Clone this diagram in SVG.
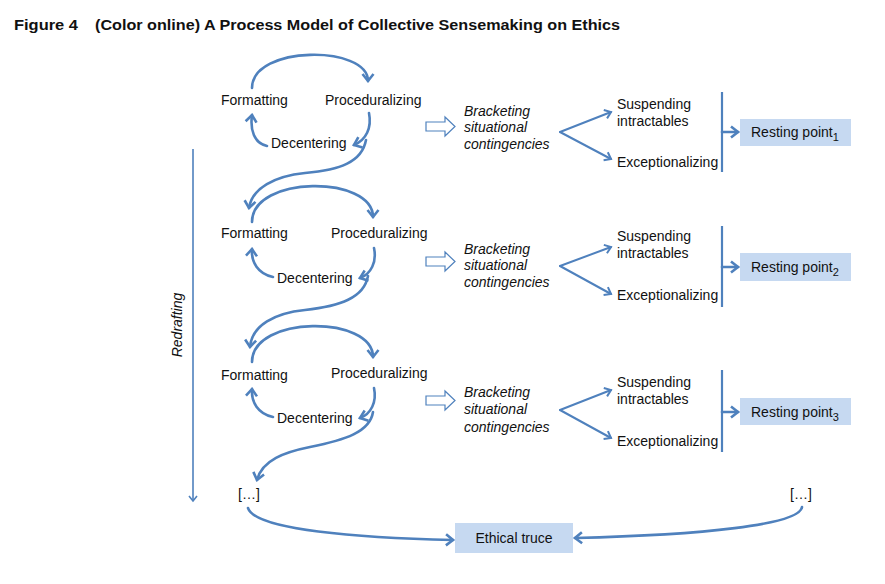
<svg xmlns="http://www.w3.org/2000/svg" width="885" height="584" viewBox="0 0 885 584">
<defs>
<style>
text{font-family:"Liberation Sans",Arial,sans-serif;font-size:14px;fill:#111}
.title{font-weight:bold;font-size:14px}
.it{font-style:italic}
.c{fill:none;stroke:#4f81bd;stroke-width:2.6;stroke-linecap:round}
.f{fill:none;stroke:#4f81bd;stroke-width:2;stroke-linecap:round}
.bar{stroke:#4f81bd;stroke-width:2.2}
.hollow{fill:#fff;stroke:#4f81bd;stroke-width:1.2}
.box{fill:#c6d9f1}
.sub{font-size:11px}
</style>
<marker id="ah" markerUnits="userSpaceOnUse" markerWidth="20" markerHeight="20" refX="0" refY="0" viewBox="-10 -10 20 20" orient="auto">
<path d="M-7,-5.5 L0,0 L-7,5.5" fill="none" stroke="#4f81bd" stroke-width="2.6" stroke-linejoin="miter"/>
</marker>
<marker id="ahs" markerUnits="userSpaceOnUse" markerWidth="20" markerHeight="20" refX="0" refY="0" viewBox="-10 -10 20 20" orient="auto">
<path d="M-6,-4.5 L0,0 L-6,4.5" fill="none" stroke="#4f81bd" stroke-width="2"/>
</marker>
<marker id="aht" markerUnits="userSpaceOnUse" markerWidth="20" markerHeight="20" refX="0" refY="0" viewBox="-10 -10 20 20" orient="auto">
<path d="M-5,-4 L0,0 L-5,4" fill="none" stroke="#4f81bd" stroke-width="1.6"/>
</marker>
</defs>
<rect width="885" height="584" fill="#fff"/>
<g id="title">
<text class="title" x="14" y="30" textLength="64" lengthAdjust="spacingAndGlyphs">Figure 4</text>
<text class="title" x="95" y="30" textLength="525" lengthAdjust="spacingAndGlyphs">(Color online) A Process Model of Collective Sensemaking on Ethics</text>
</g>

<g id="connectors">
<!-- row 1 cycle -->
<path class="c" d="M252,88 C252,45 368,45 368,81" marker-end="url(#ah)"/>
<path class="c" d="M267,146 C254,143 250,130 252,115" marker-end="url(#ah)"/>
<path class="c" d="M369,113 C372,128 366,140 354,145" marker-end="url(#ah)"/>
<path class="c" d="M366,140 C362,162 340,170 305,173 C275,176 252,188 249,208" marker-end="url(#ah)"/>
<!-- row 2 cycle -->
<path class="c" d="M252,222 C252,175 373,175 373,217" marker-end="url(#ah)"/>
<path class="c" d="M273,277 C258,274 251,262 252,249" marker-end="url(#ah)"/>
<path class="c" d="M374,248 C377,262 371,274 360,278" marker-end="url(#ah)"/>
<path class="c" d="M368,276 C364,298 340,306 305,310 C275,313 252,325 250,347" marker-end="url(#ah)"/>
<!-- row 3 cycle -->
<path class="c" d="M252,362 C252,315 373,315 373,357" marker-end="url(#ah)"/>
<path class="c" d="M273,417 C258,414 251,402 252,389" marker-end="url(#ah)"/>
<path class="c" d="M374,388 C377,402 371,414 360,418" marker-end="url(#ah)"/>
<path class="c" d="M373,412 C370,432 345,440 310,447 C285,452 262,460 257,480" marker-end="url(#ah)"/>
<!-- hollow arrows -->
<path class="hollow" d="M426,122 L445,122 L445,117 L455,126.5 L445,136 L445,131 L426,131 Z"/>
<path class="hollow" d="M426,257 L445,257 L445,252 L455,261.5 L445,271 L445,266 L426,266 Z"/>
<path class="hollow" d="M426,396 L445,396 L445,391 L455,400.5 L445,410 L445,405 L426,405 Z"/>
<!-- forks -->
<path class="f" d="M560,132 L611,112" marker-end="url(#ahs)"/>
<path class="f" d="M560,132 L611,159" marker-end="url(#ahs)"/>
<path class="f" d="M560,266 L611,247" marker-end="url(#ahs)"/>
<path class="f" d="M560,266 L611,294" marker-end="url(#ahs)"/>
<path class="f" d="M560,410 L611,390" marker-end="url(#ahs)"/>
<path class="f" d="M560,410 L611,438" marker-end="url(#ahs)"/>
<!-- bars and arrows to resting points -->
<line class="bar" x1="722" y1="92" x2="722" y2="172"/>
<path class="c" d="M722,132 L738,132" marker-end="url(#ah)"/>
<line class="bar" x1="722" y1="226" x2="722" y2="307"/>
<path class="c" d="M722,267 L738,267" marker-end="url(#ah)"/>
<line class="bar" x1="722" y1="370" x2="722" y2="452"/>
<path class="c" d="M722,412 L738,412" marker-end="url(#ah)"/>
<!-- redrafting -->
<path d="M193,149 L193,501" fill="none" stroke="#4f81bd" stroke-width="1.6" marker-end="url(#aht)"/>
<!-- to ethical truce -->
<path class="c" d="M248,508 C255,530 360,538 453,540" marker-end="url(#ah)"/>
<path class="c" d="M802,507 C800,525 700,535 575,538" marker-end="url(#ah)"/>
</g>

<g id="row1">
<g id="formatting1"><text x="221" y="105">Formatting</text></g>
<g id="proceduralizing1"><text x="325" y="105">Proceduralizing</text></g>
<g id="decentering1"><text x="271" y="148">Decentering</text></g>
<g id="bracketing1"><text class="it" x="464" y="116">Bracketing</text><text class="it" x="464" y="132">situational</text><text class="it" x="464" y="149">contingencies</text></g>
<g id="suspending1"><text x="617" y="109">Suspending</text><text x="617" y="126">intractables</text></g>
<g id="exceptionalizing1"><text x="617" y="167">Exceptionalizing</text></g>
<g id="resting1"><rect class="box" x="740" y="119" width="111" height="27"/><text x="751" y="137">Resting point<tspan class="sub" dy="4">1</tspan></text></g>
</g>

<g id="row2">
<g id="formatting2"><text x="221" y="238">Formatting</text></g>
<g id="proceduralizing2"><text x="331" y="238">Proceduralizing</text></g>
<g id="decentering2"><text x="277" y="283">Decentering</text></g>
<g id="bracketing2"><text class="it" x="464" y="254">Bracketing</text><text class="it" x="464" y="270">situational</text><text class="it" x="464" y="287">contingencies</text></g>
<g id="suspending2"><text x="617" y="241">Suspending</text><text x="617" y="258">intractables</text></g>
<g id="exceptionalizing2"><text x="617" y="300">Exceptionalizing</text></g>
<g id="resting2"><rect class="box" x="740" y="253" width="111" height="28"/><text x="751" y="272">Resting point<tspan class="sub" dy="4">2</tspan></text></g>
</g>

<g id="row3">
<g id="formatting3"><text x="221" y="380">Formatting</text></g>
<g id="proceduralizing3"><text x="331" y="378">Proceduralizing</text></g>
<g id="decentering3"><text x="277" y="423">Decentering</text></g>
<g id="bracketing3"><text class="it" x="464" y="397">Bracketing</text><text class="it" x="464" y="414">situational</text><text class="it" x="464" y="432">contingencies</text></g>
<g id="suspending3"><text x="617" y="387">Suspending</text><text x="617" y="404">intractables</text></g>
<g id="exceptionalizing3"><text x="617" y="446">Exceptionalizing</text></g>
<g id="resting3"><rect class="box" x="740" y="398" width="111" height="27"/><text x="751" y="417">Resting point<tspan class="sub" dy="4">3</tspan></text></g>
</g>

<g id="redrafting"><text class="it" transform="translate(182,325) rotate(-90)" text-anchor="middle">Redrafting</text></g>
<g id="ellipsis-left"><text x="238" y="499">[…]</text></g>
<g id="ellipsis-right"><text x="790" y="499">[…]</text></g>
<g id="ethical-truce"><rect class="box" x="455" y="523" width="118" height="30"/><text x="514" y="543" text-anchor="middle">Ethical truce</text></g>
</svg>
